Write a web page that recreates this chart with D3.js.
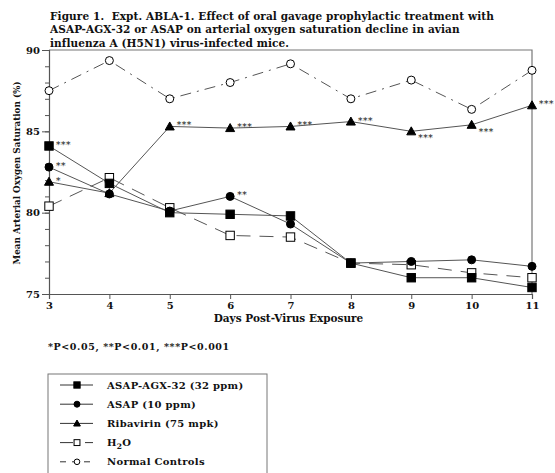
<!DOCTYPE html>
<html>
<head>
<meta charset="utf-8">
<script src="https://cdn.jsdelivr.net/npm/d3@7"></script>
<style>
    body { margin: 0; background: #fff; }
    svg { display: block; }
    text { font-family: 'DejaVu Serif', serif; font-weight: bold; fill: #111; white-space: pre; }
</style>
</head>
<body>
<svg id="chart"></svg>
<script>

/*
*   Data
*/

const days = [3, 4, 5, 6, 7, 8, 9, 10, 11]

const asapAgx = [84.1, 81.8, 80.0, 79.9, 79.8, 76.9, 76.0, 76.0, 75.4]
const asap = [82.8, 81.15, 80.1, 81.0, 79.3, 76.9, 77.0, 77.1, 76.7]
const ribavirin = [81.9, 81.2, 85.3, 85.2, 85.3, 85.6, 85.0, 85.4, 86.6]
const water = [80.4, 82.15, 80.3, 78.6, 78.5, 76.9, 76.8, 76.3, 76.0]
const normals = [87.5, 89.35, 87.0, 88.0, 89.15, 87.0, 88.15, 86.35, 88.75]

const starsAgx = ['***', '', '', '', '', '', '', '', '']
const starsAsap = ['**', '', '', '**', '', '', '', '', '']
const starsRiba = ['*', '', '***', '***', '***', '***', '***', '***', '***']

const yTicksMajor = [75, 80, 85, 90]
const titleLines = [
    'Figure 1.  Expt. ABLA-1. Effect of oral gavage prophylactic treatment with',
    'ASAP-AGX-32 or ASAP on arterial oxygen saturation decline in avian',
    'influenza A (H5N1) virus-infected mice.',
]


/*
*   Constants
*/

const WIDTH = 555
const HEIGHT = 473
const LINE = '#555'
const FRAME = '#777'

const series = [
    { name: 'ASAP-AGX-32 (32 ppm)', values: asapAgx, stars: starsAgx, shape: 'square', fill: '#000', dash: null },
    { name: 'ASAP (10 ppm)', values: asap, stars: starsAsap, shape: 'circle', fill: '#000', dash: null },
    { name: 'Ribavirin (75 mpk)', values: ribavirin, stars: starsRiba, shape: 'triangle', fill: '#000', dash: null },
    { name: 'H2O', values: water, stars: null, shape: 'square', fill: '#fff', dash: '14,9' },
    { name: 'Normal Controls', values: normals, stars: null, shape: 'circle', fill: '#fff', dash: '11,6,2,6' },
]


/*
*   Setup
*/

const svg = d3.select('#chart')
.attr('width', WIDTH)
.attr('height', HEIGHT)

const x = d3.scaleLinear().domain([3, 11]).range([49, 532])
const y = d3.scaleLinear().domain([75, 90]).range([294, 50])


/*
*   Title
*/

svg.append('g')
.selectAll('text')
.data(titleLines)
.join('text')
.attr('x', 50)
.attr('y', (d, i) => 19.5 + i * 13.5)
.style('font-size', '10.5px')
.style('letter-spacing', '0.1px')
.text(d => d)


/*
*   Frame and axes
*/

svg.append('path')
.attr('d', `M${x(3)},${y(90)}H${x(11)}V${y(75)}`)
.attr('fill', 'none')
.attr('stroke', FRAME)
.attr('stroke-width', 1.2)

const minorAxis = svg.append('g')
.attr('transform', `translate(${x(3)},0)`)
.call(d3.axisLeft(y).tickValues(d3.range(75, 91)).tickSize(4).tickFormat(''))

const majorAxis = svg.append('g')
.attr('transform', `translate(${x(3)},0)`)
.call(d3.axisLeft(y).tickValues(yTicksMajor).tickSize(7).tickPadding(2))

const xAxis = svg.append('g')
.attr('transform', `translate(0,${y(75)})`)
.call(d3.axisBottom(x).tickValues(days).tickSize(5).tickPadding(3))

svg.selectAll('.domain').attr('stroke', LINE).attr('stroke-width', 1.2)
svg.selectAll('.tick line').attr('stroke', LINE)
svg.selectAll('.tick text')
.style('font-family', "'DejaVu Serif', serif")
.style('font-weight', 'bold')
.style('font-size', '10px')
.attr('fill', '#111')
minorAxis.select('.domain').remove()

svg.append('text')
.attr('transform', `translate(20,${(y(75) + y(90)) / 2 + 1}) rotate(-90)`)
.attr('text-anchor', 'middle')
.style('font-size', '8.8px')
.text('Mean Arterial Oxygen Saturation (%)')

svg.append('text')
.attr('x', (x(3) + x(11)) / 2 - 2)
.attr('y', 322)
.attr('text-anchor', 'middle')
.style('font-size', '10.5px')
.text('Days Post-Virus Exposure')

svg.append('text')
.attr('x', 48)
.attr('y', 350)
.style('font-size', '9.5px')
.style('letter-spacing', '0.6px')
.text('*P<0.05, **P<0.01, ***P<0.001')


/*
*   Markers
*/

const drawMarker = (g, s, cx, cy, scale) => {
    const k = scale || 1
    if (s.shape === 'square') {
        g.append('rect')
        .attr('x', cx - 4.2 * k).attr('y', cy - 4.2 * k)
        .attr('width', 8.4 * k).attr('height', 8.4 * k)
        .attr('fill', s.fill).attr('stroke', '#000').attr('stroke-width', 1)
    } else if (s.shape === 'circle') {
        g.append('circle')
        .attr('cx', cx).attr('cy', cy).attr('r', 4 * k)
        .attr('fill', s.fill).attr('stroke', '#000').attr('stroke-width', 1)
    } else {
        g.append('path')
        .attr('d', `M${cx},${cy - 4.5 * k}L${cx + 4.5 * k},${cy + 3.5 * k}L${cx - 4.5 * k},${cy + 3.5 * k}Z`)
        .attr('fill', s.fill).attr('stroke', '#000').attr('stroke-width', 1)
    }
}


/*
*   Lines
*/

const line = d3.line()
.x((d, i) => x(days[i]))
.y(d => y(d))

const plot = svg.append('g')

series.slice().reverse().forEach(s => {
    plot.append('path')
    .datum(s.values)
    .attr('d', line)
    .attr('fill', 'none')
    .attr('stroke', LINE)
    .attr('stroke-width', 1)
    .attr('stroke-dasharray', s.dash)
})

series.slice().reverse().forEach(s => {
    const g = plot.append('g')
    s.values.forEach((v, i) => drawMarker(g, s, x(days[i]), y(v)))
})


/*
*   Significance stars
*/

series.filter(s => s.stars).forEach(s => {
    s.values.forEach((v, i) => {
        const label = s.stars[i]
        if (!label) return
        const below = s.shape === 'triangle' && (days[i] === 9 || days[i] === 10)
        svg.append('text')
        .attr('x', x(days[i]) + 7)
        .attr('y', y(v) + (below ? 10 : 2))
        .style('font-size', '9px')
        .style('font-weight', 'normal')
        .style('letter-spacing', '0.5px')
        .attr('fill', '#555')
        .text(label)
    })
})


/*
*   Legend
*/

const legend = svg.append('g')

legend.append('rect')
.attr('x', 48)
.attr('y', 374)
.attr('width', 219)
.attr('height', 110)
.attr('fill', 'none')
.attr('stroke', FRAME)
.attr('stroke-width', 1)

series.forEach((s, i) => {
    const ly = 385 + i * 19.2
    legend.append('line')
    .attr('x1', 60).attr('x2', 93)
    .attr('y1', ly).attr('y2', ly)
    .attr('stroke', '#333')
    .attr('stroke-width', 1)
    .attr('stroke-dasharray', s.dash ? (s.shape === 'square' ? '13,5,0,7,8' : '6,6,3,9') : null)
    drawMarker(legend, s, 77, ly, s.fill === '#fff' ? 0.7 : 0.75)
    const t = legend.append('text')
    .attr('x', 107)
    .attr('y', ly + 3.5)
    .style('font-size', '10px')
    .style('letter-spacing', '0.3px')
    if (s.name === 'H2O') {
        t.append('tspan').text('H')
        t.append('tspan').attr('dy', 3).style('font-size', '7.5px').text('2')
        t.append('tspan').attr('dy', -3).text('O')
    } else {
        t.text(s.name)
    }
})

</script>
</body>
</html>
